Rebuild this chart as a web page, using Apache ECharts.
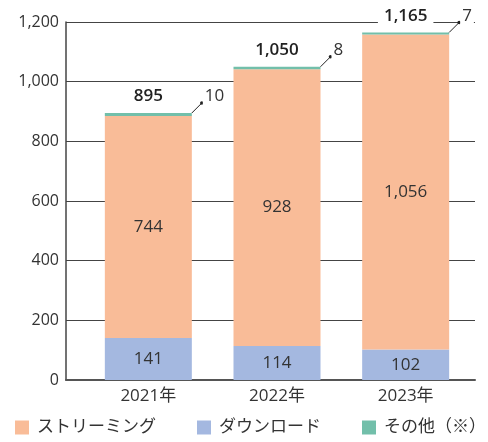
<!DOCTYPE html>
<html>
<head>
<meta charset="utf-8">
<script src="https://cdn.jsdelivr.net/npm/echarts@6/dist/echarts.min.js"></script>
<style>
  html, body { margin: 0; padding: 0; background: #fff; }
  #main { width: 488px; height: 442px; }
</style>
</head>
<body>
<div id="main"></div>
<script>
var years = ["2021年", "2022年", "2023年"];
var streaming = [744, 928, 1056];
var download = [141, 114, 102];
var other = [10, 8, 7];
var totals = [895, 1050, 1165];
var yTicks = [0, 200, 400, 600, 800, 1000, 1200];

var font = "'Open Sans', 'Noto Sans CJK JP', sans-serif";
var textColor = "#333";

var otherLabels = [];
for (var i = 0; i < years.length; i++) {
  otherLabels.push([i, totals[i], other[i]]);
}

var chart = echarts.init(document.getElementById("main"));
var option = {
  animation: false,
  textStyle: { fontFamily: font },
  grid: [
    { left: 66, right: 13, top: 22, bottom: 62 },
    { left: 84, right: 18, top: 22, bottom: 62 }
  ],
  xAxis: [
    {
      type: "category",
      gridIndex: 0,
      data: years,
      axisLine: { show: true, lineStyle: { color: "#555", width: 2 } },
      axisTick: { show: false },
      axisLabel: { show: false }
    },
    {
      type: "category",
      gridIndex: 1,
      data: years,
      axisLine: { show: false },
      axisTick: { show: false },
      axisLabel: { color: textColor, fontSize: 17, margin: 8, fontFamily: font }
    }
  ],
  yAxis: [
    {
      type: "value",
      gridIndex: 0,
      min: yTicks[0],
      max: yTicks[yTicks.length - 1],
      interval: 200,
      axisLine: { show: true, lineStyle: { color: "#444", width: 1.5 } },
      axisTick: { show: false },
      axisLabel: {
        color: textColor,
        fontSize: 16,
        margin: 7,
        fontFamily: font,
        formatter: function (v) { return v.toLocaleString("en-US"); }
      },
      splitLine: { lineStyle: { color: "#444", width: 1 } }
    },
    {
      type: "value",
      gridIndex: 1,
      min: 0,
      max: 1200,
      show: false
    }
  ],
  legend: {
    left: 15,
    bottom: 6,
    width: 480,
    padding: 0,
    itemWidth: 14,
    itemHeight: 14,
    itemGap: 41,
    icon: "rect",
    textStyle: { color: textColor, fontSize: 17, fontFamily: font, padding: [0, 0, 0, 3] },
    data: ["ストリーミング", "ダウンロード", "その他（※）"]
  },
  series: [
    {
      name: "ダウンロード",
      type: "bar",
      stack: "total",
      xAxisIndex: 1,
      yAxisIndex: 1,
      barWidth: 87,
      itemStyle: { color: "#a4b8e0" },
      label: { show: true, position: "inside", color: textColor, fontSize: 17 },
      data: download
    },
    {
      name: "ストリーミング",
      type: "bar",
      stack: "total",
      xAxisIndex: 1,
      yAxisIndex: 1,
      barWidth: 87,
      itemStyle: { color: "#f9bc98" },
      label: {
        show: true,
        position: "inside",
        color: textColor,
        fontSize: 17,
        formatter: function (p) { return p.value.toLocaleString("en-US"); }
      },
      data: streaming
    },
    {
      name: "その他（※）",
      type: "bar",
      stack: "total",
      xAxisIndex: 1,
      yAxisIndex: 1,
      barWidth: 87,
      itemStyle: { color: "#72bfaa" },
      label: {
        show: true,
        position: "top",
        distance: 8,
        color: "#222",
        fontSize: 17,
        fontWeight: 600,
        backgroundColor: "#fff",
        padding: [0, 6],
        formatter: function (p) { return totals[p.dataIndex].toLocaleString("en-US"); }
      },
      data: other
    },
    {
      type: "custom",
      xAxisIndex: 1,
      yAxisIndex: 1,
      z: 10,
      silent: true,
      data: otherLabels,
      renderItem: function (params, api) {
        var p = api.coord([api.value(0), api.value(1)]);
        var x0 = p[0] + 43.5;
        var y0 = p[1];
        var x1 = x0 + 10;
        var y1 = y0 - 10;
        return {
          type: "group",
          children: [
            {
              type: "line",
              shape: { x1: x0, y1: y0, x2: x1, y2: y1 },
              style: { stroke: "#222", lineWidth: 1 }
            },
            {
              type: "circle",
              shape: { cx: x1, cy: y1, r: 1.8 },
              style: { fill: "#222" }
            },
            {
              type: "text",
              style: {
                x: x1 + 1,
                y: y1 + 2,
                text: String(api.value(2)),
                fill: textColor,
                font: "17px " + font,
                align: "left",
                verticalAlign: "bottom",
                backgroundColor: "#fff",
                padding: [0, 2]
              }
            }
          ]
        };
      }
    }
  ]
};
chart.setOption(option);
</script>
</body>
</html>
